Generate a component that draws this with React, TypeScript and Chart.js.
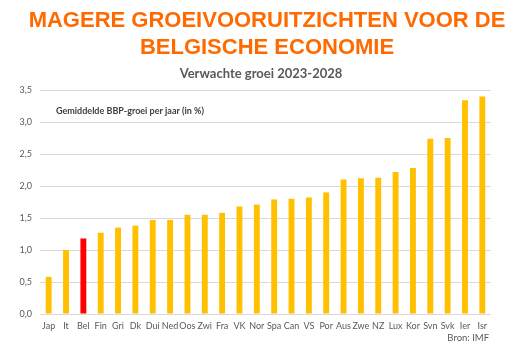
import React, { useEffect, useRef } from "react";
import { Chart, registerables } from "chart.js";

Chart.register(...registerables);

const categories = ["Jap", "It", "Bel", "Fin", "Gri", "Dk", "Dui", "Ned", "Oos", "Zwi", "Fra", "VK", "Nor", "Spa", "Can", "VS", "Por", "Aus", "Zwe", "NZ", "Lux", "Kor", "Svn", "Svk", "Ier", "Isr"];
const growth = [0.58, 1.0, 1.18, 1.27, 1.35, 1.38, 1.47, 1.47, 1.55, 1.55, 1.58, 1.68, 1.71, 1.79, 1.8, 1.82, 1.9, 2.1, 2.12, 2.13, 2.22, 2.28, 2.74, 2.75, 3.34, 3.4];
const highlight = "Bel";
const titleLines = ["MAGERE GROEIVOORUITZICHTEN VOOR DE", "BELGISCHE ECONOMIE"];
const subtitle = "Verwachte groei 2023-2028";
const innerLabel = "Gemiddelde BBP-groei per jaar (in %)";
const sourceText = "Bron: IMF";

const textPlugin = {
  id: "customText",
  afterDraw(chart: any) {
    const ctx = chart.ctx;
    const area = chart.chartArea;
    ctx.save();
    ctx.fillStyle = "#FF6A00";
    ctx.font = "bold 22px 'Liberation Sans', Arial, sans-serif";
    ctx.textAlign = "center";
    ctx.textBaseline = "alphabetic";
    ctx.fillText(titleLines[0], 267, 27);
    ctx.fillText(titleLines[1], 267, 54);
    ctx.fillStyle = "#595959";
    ctx.font = "bold 13px Lato, 'Open Sans', sans-serif";
    ctx.fillText(subtitle, 261, 78);
    ctx.fillStyle = "#404040";
    ctx.font = "bold 9px Lato, 'Open Sans', sans-serif";
    ctx.textAlign = "left";
    ctx.textBaseline = "middle";
    ctx.fillText(innerLabel, area.left + 16, 111);
    ctx.fillStyle = "#595959";
    ctx.font = "9.5px Lato, 'Open Sans', sans-serif";
    ctx.textAlign = "right";
    ctx.fillText(sourceText, 489, 338);
    ctx.restore();
  },
};

export default function App() {
  const ref = useRef<HTMLCanvasElement | null>(null);
  useEffect(() => {
    document.body.style.margin = "0";
    const chart = new Chart(ref.current!, {
      type: "bar",
      data: {
        labels: categories,
        datasets: [
          {
            data: growth,
            backgroundColor: categories.map((c) => (c === highlight ? "#FF0000" : "#FFC000")),
            barPercentage: 0.34,
            categoryPercentage: 1,
          },
        ],
      },
      options: {
        animation: false,
        responsive: false,
        maintainAspectRatio: false,
        layout: { padding: { top: 90, right: 21, bottom: 12, left: 0 } },
        plugins: { legend: { display: false }, tooltip: { enabled: false }, title: { display: false } },
        scales: {
          x: {
            grid: { display: false, drawTicks: false },
            border: { display: false },
            ticks: { color: "#595959", font: { family: "Lato", size: 9 }, padding: 7, maxRotation: 0, autoSkip: false },
            afterFit: (axis: any) => {
              axis.height = 22;
            },
          },
          y: {
            min: 0,
            max: 3.5,
            ticks: {
              stepSize: 0.5,
              color: "#595959",
              font: { family: "Lato", size: 9 },
              padding: 8,
              callback: (v: any) => Number(v).toFixed(1).replace(".", ","),
            },
            grid: { color: "#D9D9D9", drawTicks: false },
            border: { display: false },
            afterFit: (axis: any) => {
              axis.width = 40;
            },
          },
        },
      },
      plugins: [textPlugin],
    });
    return () => chart.destroy();
  }, []);
  return (
    <div style={{ width: 512, height: 348, background: "#fff" }}>
      <canvas ref={ref} width={512} height={348} style={{ display: "block" }} />
    </div>
  );
}
